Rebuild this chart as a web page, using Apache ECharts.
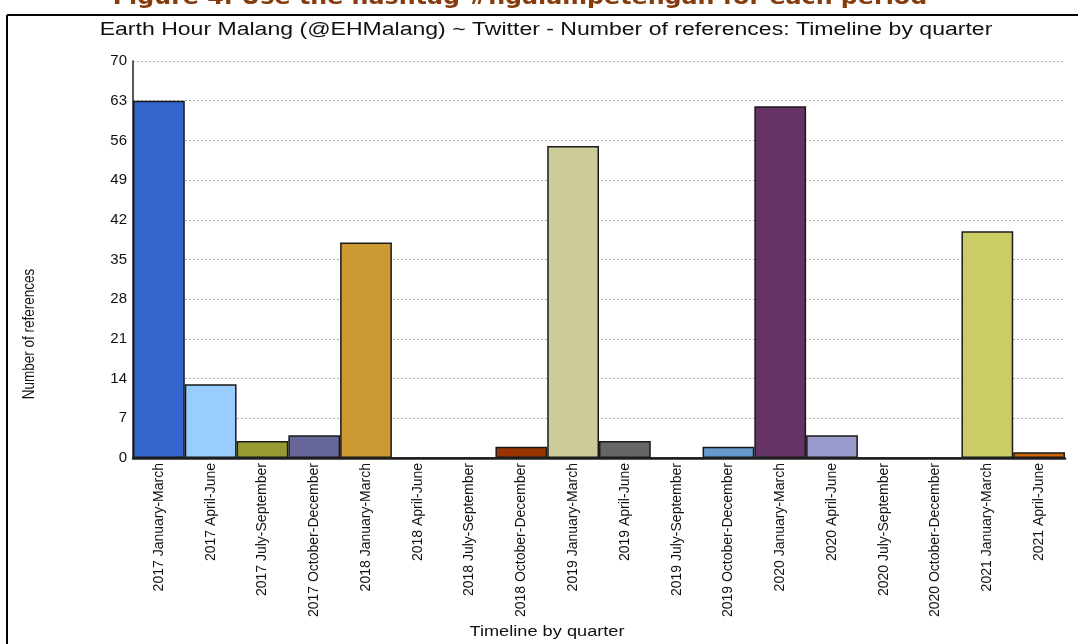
<!DOCTYPE html>
<html>
<head>
<meta charset="utf-8">
<script src="https://cdn.jsdelivr.net/npm/echarts@6/dist/echarts.min.js"></script>
<style>html,body{margin:0;padding:0;background:#fff}#c{width:1078px;height:644px}</style>
</head>
<body>
<div id="c"></div>
<script>
const categories = [
  "2017 January-March","2017 April-June","2017 July-September","2017 October-December",
  "2018 January-March","2018 April-June","2018 July-September","2018 October-December",
  "2019 January-March","2019 April-June","2019 July-September","2019 October-December",
  "2020 January-March","2020 April-June","2020 July-September","2020 October-December",
  "2021 January-March","2021 April-June"
];
const references = [63, 13, 3, 4, 38, 0, 0, 2, 55, 3, 0, 2, 62, 4, 0, 0, 40, 1];
const barColors = [
  "#3366CC","#99CCFF","#999933","#666699","#CC9933","#999999","#999999","#993300",
  "#CCCC99","#666666","#999999","#6699CC","#663366","#9999CC","#999999","#999999",
  "#CCCC66","#CC6600"
];
const yTicks = [0, 7, 14, 21, 28, 35, 42, 49, 56, 63, 70];

const chartTitle = 'Earth Hour Malang (@EHMalang) ~ Twitter - Number of references: Timeline by quarter';
const figureTitle = 'Figure 4. Use the hashtag #ngalampetengan for each period';
const xName = 'Timeline by quarter';
const yName = 'Number of references';

const chart = echarts.init(document.getElementById('c'));
chart.setOption({
  animation: false,
  backgroundColor: '#fff',
  graphic: [
    { type: 'text', x: 520, y: -13, scaleX: 1.08, silent: true,
      style: { text: figureTitle, font: 'bold 22px "DejaVu Sans", sans-serif', fill: '#843C0C', align: 'center', verticalAlign: 'top' } },
    { type: 'line', shape: { x1: 7, y1: 15, x2: 1078, y2: 15 }, style: { stroke: '#000', lineWidth: 2 }, silent: true },
    { type: 'line', shape: { x1: 7, y1: 15, x2: 7, y2: 644 }, style: { stroke: '#000', lineWidth: 2 }, silent: true },
    { type: 'text', x: 546, y: 30, scaleX: 1.28, silent: true,
      style: { text: chartTitle, font: '18px "Liberation Sans", Arial, sans-serif', fill: '#111', align: 'center', verticalAlign: 'middle' } },
    { type: 'text', x: 547, y: 632, scaleX: 1.3, silent: true,
      style: { text: xName, font: '14px "Liberation Sans", Arial, sans-serif', fill: '#111', align: 'center', verticalAlign: 'middle' } },
    { type: 'text', x: 30, y: 334, rotation: Math.PI / 2, scaleY: 1.2, silent: true,
      style: { text: yName, font: '13.5px "Liberation Sans", Arial, sans-serif', fill: '#111', align: 'center', verticalAlign: 'middle' } }
  ],
  grid: { left: 133, right: 13, top: 61, bottom: 186, containLabel: false, outerBoundsMode: 'none' },
  xAxis: {
    type: 'category',
    data: categories,
    axisLine: { lineStyle: { color: '#222', width: 2.5 } },
    axisTick: { show: false },
    axisLabel: {
      rotate: 90, interval: 0, margin: 5,
      fontFamily: '"Liberation Sans", Arial, sans-serif',
      fontSize: 14, color: '#111'
    }
  },
  yAxis: {
    type: 'value',
    min: yTicks[0], max: yTicks[yTicks.length - 1], interval: 7,
    axisLine: { show: true, lineStyle: { color: '#222', width: 1.5 } },
    axisTick: { show: false },
    axisLabel: { margin: 6, fontFamily: '"Liberation Sans", Arial, sans-serif', fontSize: 15, color: '#111' },
    splitLine: { show: true, lineStyle: { color: '#b0b0b0', type: [2, 2], width: 1 } }
  },
  series: [{
    type: 'bar',
    data: references.map((v, i) => ({ value: v, itemStyle: { color: barColors[i] } })),
    barCategoryGap: '0%',
    itemStyle: { borderColor: '#1a1a1a', borderWidth: 1.5 }
  }]
});
</script>
</body>
</html>
